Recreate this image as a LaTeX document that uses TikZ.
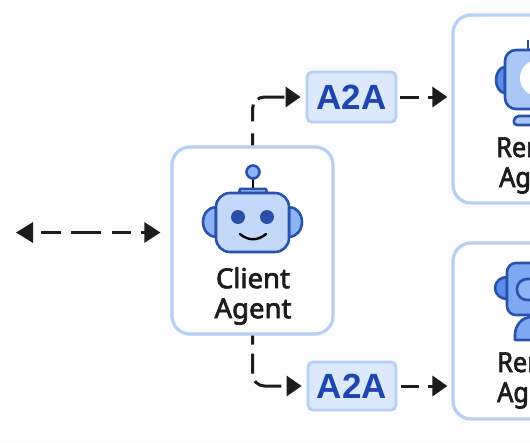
\documentclass[tikz,border=0pt]{standalone}
\usepackage{fontspec}
\setmainfont[FakeBold=2.5]{Noto Sans}
\newfontfamily\tagfont{Liberation Sans}
\newfontfamily\cutfont[FakeBold=2.5,FakeStretch=0.92]{Noto Sans}
\usetikzlibrary{arrows.meta}
\definecolor{boxline}{HTML}{B5CFF5}
\definecolor{stroke}{HTML}{2852AE}
\definecolor{bodyl}{HTML}{C4D9FA}
\definecolor{bodya}{HTML}{A9C8F8}
\definecolor{bodym}{HTML}{7FA8F2}
\definecolor{earm}{HTML}{8FB4F5}
\definecolor{eard}{HTML}{5B8BE8}
\definecolor{eye}{HTML}{2A4FA8}
\definecolor{ink}{HTML}{1C1C1E}
\definecolor{tagfill}{HTML}{DCE8FC}
\definecolor{tagtext}{HTML}{1F45B0}
\tikzset{
  agentbox/.style={draw=boxline,line width=3.2pt,rounded corners=18pt,fill=white,inner sep=0pt},
  tagbox/.style={draw=boxline,line width=2.8pt,rounded corners=5pt,fill=tagfill,inner sep=0pt,
    text=tagtext,font=\fontsize{35}{35}\selectfont\tagfont\bfseries},
  agenttext/.style={text=ink,font=\fontsize{27.5}{30}\selectfont,inner sep=0pt},
  cuttext/.style={text=ink,font=\fontsize{27.5}{30}\selectfont\cutfont,inner sep=0pt,anchor=base west},
  flowline/.style={draw=ink,line width=3pt,rounded corners=12pt},
  tip/.style={-{Triangle[length=15pt,width=20pt,fill=ink]}},
  bothtips/.style={{Triangle[length=17pt,width=20pt,fill=ink]}-{Triangle[length=16pt,width=20pt,fill=ink]}},
  robotline/.style={draw=stroke,line width=2.6pt,line join=round}
}
\begin{document}
\begin{tikzpicture}[x=1pt,y=-1pt]
\useasboundingbox (0,0) rectangle (530,442);
\clip (0,0) rectangle (530,442);
\fill[white!99!black] (0,0) rectangle (530,442);

% boxes
\node[agentbox,minimum width=161pt,minimum height=187pt] (client) at (252.5,240.5) {};
\node[agentbox,minimum width=160pt,minimum height=188pt] (remoteA) at (533,109) {};
\node[agentbox,minimum width=160pt,minimum height=176pt] (remoteB) at (533,331) {};
\node[tagbox,minimum width=89pt,minimum height=50pt] (tagA) at (351.5,97) {A2A};
\node[tagbox,minimum width=88pt,minimum height=48pt] (tagB) at (352,386) {A2A};

% client robot
\draw[robotline,fill=earm] (216,207) arc[start angle=90,end angle=270,x radius=13pt,y radius=15pt] -- cycle;
\draw[robotline,fill=earm] (289,207) arc[start angle=90,end angle=-90,x radius=13pt,y radius=15pt] -- cycle;
\draw[stroke,line width=2.2pt] (253,178) -- (253,190);
\draw[robotline,fill=bodyl] (239,193) -- (240,189) -- (266,189) -- (267,193) -- cycle;
\draw[robotline,fill=earm] (253,172) circle (6.5pt);
\draw[robotline,fill=bodyl,rounded corners=14pt] (216,193) rectangle (289,252);
\fill[eye] (238,217) circle (7pt) (267,217) circle (7pt);
\draw[stroke,line width=2.4pt,line cap=round] (240,234) .. controls (248,241) and (258,241) .. (266,234);
\node[agenttext,align=center] (clientlabel) at (253,296) {Client\\Agent};

% upper remote robot
\draw[robotline,fill=eard] (505,67) arc[start angle=90,end angle=270,x radius=9pt,y radius=13pt] -- cycle;
\draw[robotline] (528,50) -- (528,40);
\draw[robotline,fill=bodya,rounded corners=11pt] (505,50) rectangle (560,109);
\fill[white] (538,78) circle (18pt);
\draw[robotline,fill=bodya,rounded corners=4pt] (513,125) -- (515,116) -- (560,116) -- (560,125) -- cycle;
\node[cuttext] (remoteAa) at (496,157) {Rem};
\node[cuttext] (remoteAb) at (499,187) {Ag};

% lower remote robot
\draw[robotline,fill=eard] (507,277) arc[start angle=90,end angle=270,x radius=12pt,y radius=11pt] -- cycle;
\draw[robotline,fill=bodym,rounded corners=9pt] (507,263) rectangle (560,315);
\draw[robotline,fill=earm,rounded corners=10pt] (517,279) rectangle (560,300);
\draw[robotline,fill=bodym] (515,340) -- (515,335) .. controls (515,325) and (522,317) .. (532,317) -- (560,317) -- (560,340) -- cycle;
\node[cuttext] (remoteBa) at (497,372) {Rem};
\node[cuttext] (remoteBb) at (497,402) {Ag};

% connectors
\coordinate (user) at (16,232.5);
\draw[flowline,bothtips,dash pattern=on 0pt off 9pt on 20pt off 10pt on 30pt off 11pt on 19pt off 10pt on 30pt,shorten >=10pt] (user) -- (client.west |- user);
\draw[flowline,tip,dash pattern=on 12pt off 12pt on 17pt off 7pt on 27pt off 10pt,shorten >=5pt] (client.north) |- (tagA.west);
\draw[flowline,tip,dash pattern=on 9pt off 9pt on 20pt off 8pt on 28pt off 10pt,shorten >=5pt] (client.south) |- (tagB.west);
\draw[flowline,tip,dash pattern=on 19pt off 9pt on 30pt off 10pt,shorten <=2.5pt,shorten >=4pt] (tagA.east) -- (remoteA.west |- tagA.east);
\draw[flowline,tip,dash pattern=on 18pt off 9pt on 30pt off 10pt,shorten <=4pt,shorten >=4pt] (tagB.east) -- (remoteB.west |- tagB.east);
\end{tikzpicture}
\end{document}
